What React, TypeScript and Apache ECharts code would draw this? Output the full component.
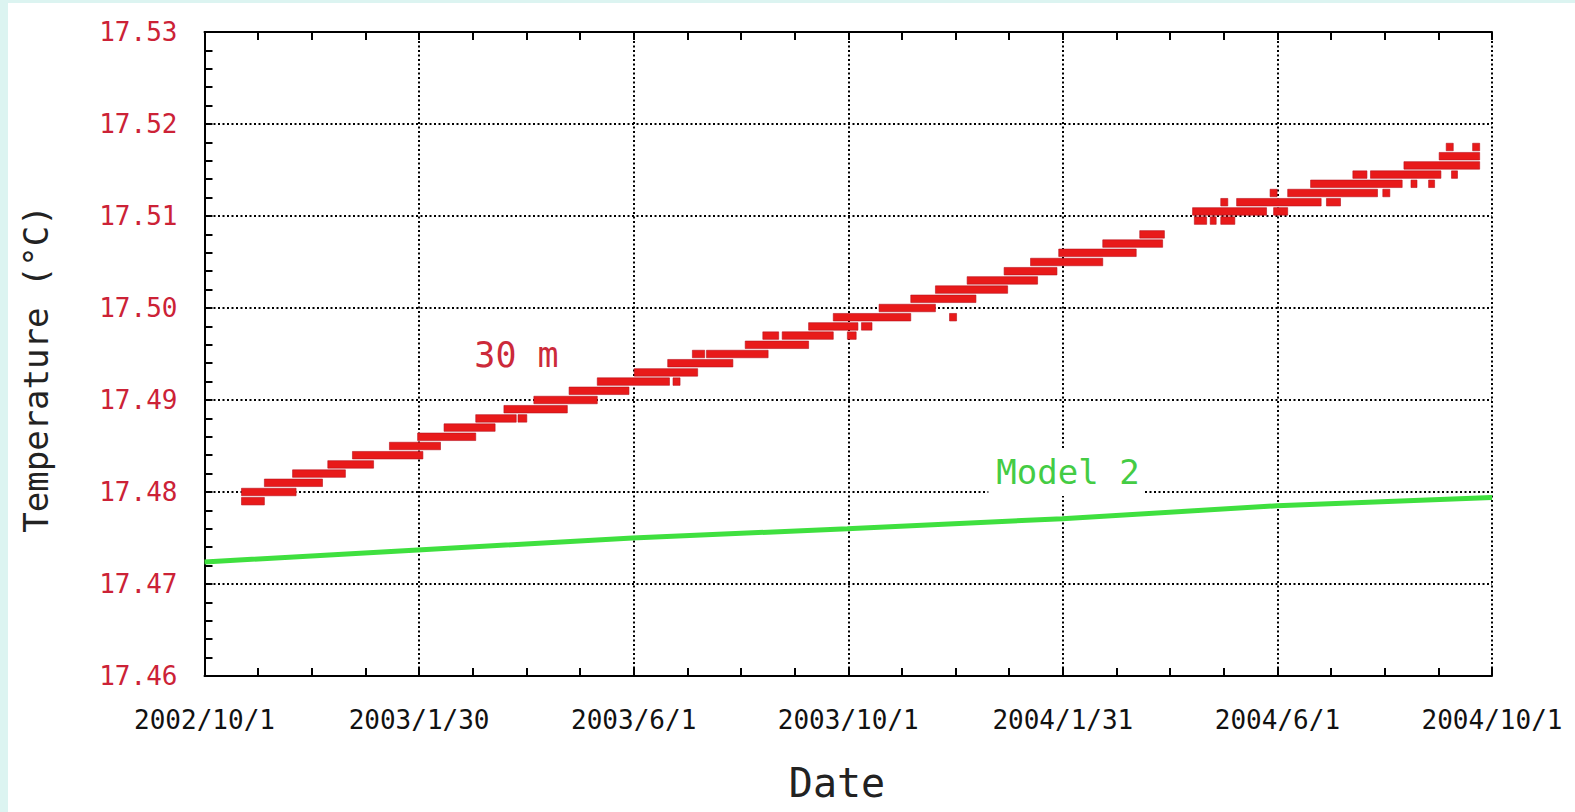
import React, { useEffect, useRef } from "react";
import * as echarts from "echarts";

// x tick labels (equally spaced ticks, six intervals over two years)
const xTickLabels = ["2002/10/1", "2003/1/30", "2003/6/1", "2003/10/1", "2004/1/31", "2004/6/1", "2004/10/1"];

// 30 m observations: runs of daily readings at one quantised value
const segValue = [
  17.479, 17.48, 17.481, 17.482, 17.483, 17.484, 17.485, 17.486, 17.487, 17.488,
  17.488, 17.489, 17.49, 17.491, 17.492, 17.492, 17.493, 17.494, 17.495, 17.495,
  17.496, 17.497, 17.497, 17.497, 17.498, 17.498, 17.499, 17.499, 17.5, 17.501,
  17.502, 17.503, 17.504, 17.505, 17.506, 17.507, 17.508, 17.5095, 17.5095, 17.5095,
  17.5105, 17.5105, 17.5115, 17.5115, 17.5115, 17.5125, 17.5125, 17.5125, 17.5135, 17.5135,
  17.5135, 17.5145, 17.5145, 17.5145, 17.5155, 17.5165, 17.5175, 17.5175,
];
const segStart = [
  "2002/10/22", "2002/10/22", "2002/11/4", "2002/11/20", "2002/12/10", "2002/12/24", "2003/1/14", "2003/1/30", "2003/2/14", "2003/3/4",
  "2003/3/28", "2003/3/20", "2003/4/6", "2003/4/26", "2003/5/12", "2003/6/24", "2003/6/2", "2003/6/21", "2003/7/5", "2003/7/13",
  "2003/8/4", "2003/8/14", "2003/8/25", "2003/10/1", "2003/9/9", "2003/10/9", "2003/9/23", "2003/11/28", "2003/10/19", "2003/11/6",
  "2003/11/20", "2003/12/8", "2003/12/29", "2004/1/13", "2004/1/29", "2004/2/23", "2004/3/15", "2004/4/15", "2004/4/24", "2004/4/30",
  "2004/4/14", "2004/5/30", "2004/4/30", "2004/5/9", "2004/6/29", "2004/5/28", "2004/6/7", "2004/7/31", "2004/6/20", "2004/8/16",
  "2004/8/26", "2004/7/14", "2004/7/24", "2004/9/8", "2004/8/12", "2004/9/1", "2004/9/5", "2004/9/20",
];
const segEnd = [
  "2002/11/4", "2002/11/22", "2002/12/7", "2002/12/20", "2003/1/5", "2003/2/2", "2003/2/12", "2003/3/4", "2003/3/15", "2003/3/27",
  "2003/4/2", "2003/4/25", "2003/5/12", "2003/5/30", "2003/6/22", "2003/6/28", "2003/7/8", "2003/7/28", "2003/7/12", "2003/8/17",
  "2003/9/9", "2003/8/23", "2003/9/23", "2003/10/6", "2003/10/7", "2003/10/15", "2003/11/6", "2003/12/2", "2003/11/20", "2003/12/13",
  "2003/12/31", "2004/1/17", "2004/1/28", "2004/2/23", "2004/3/13", "2004/3/28", "2004/3/29", "2004/4/22", "2004/4/27", "2004/5/8",
  "2004/5/26", "2004/6/7", "2004/5/4", "2004/6/26", "2004/7/7", "2004/6/1", "2004/7/28", "2004/8/4", "2004/8/11", "2004/8/19",
  "2004/8/29", "2004/7/22", "2004/9/2", "2004/9/11", "2004/9/24", "2004/9/24", "2004/9/9", "2004/9/24",
];

// Model 2 curve
const modelDates = ["2002/10/1", "2003/1/30", "2003/6/1", "2003/10/1", "2004/1/31", "2004/6/1", "2004/10/1"];
const modelValues = [17.4724, 17.4737, 17.475, 17.476, 17.4771, 17.4785, 17.4794];

const ORIGIN = Date.UTC(2002, 9, 1);
function dayOf(s: string): number {
  const [y, m, d] = s.split("/").map(Number);
  return (Date.UTC(y, m - 1, d) - ORIGIN) / 86400000;
}

const FONT = '"DejaVu Sans Mono", monospace';

export default function App() {
  const ref = useRef<HTMLDivElement>(null);
  useEffect(() => {
    if (!ref.current) return;
    const chart = echarts.init(ref.current, null, { renderer: "svg" });
    const span = dayOf(xTickLabels[xTickLabels.length - 1]);
    const segData = segValue.map((v, i) => [dayOf(segStart[i]), dayOf(segEnd[i]), v]);
    const modelData = modelDates.map((d, i) => [dayOf(d), modelValues[i]]);
    const tickStyle = { color: "#000", width: 2 };
    const xBase = {
      type: "value",
      min: 0,
      max: span,
      interval: span / 6,
      axisLine: { show: true, lineStyle: tickStyle },
      axisTick: { show: true, inside: true, length: 8, lineStyle: tickStyle },
      minorTick: { show: true, splitNumber: 4, length: 8, lineStyle: tickStyle },
    };
    chart.setOption({
      animation: false,
      backgroundColor: "#ffffff",
      textStyle: { fontFamily: FONT },
      grid: { left: 196.5, top: 29, right: 83, bottom: 136, containLabel: false },
      xAxis: [
        {
          ...xBase,
          position: "bottom",
          splitLine: { show: true, lineStyle: { color: "#000", width: 2, type: [2, 2.5] } },
          axisLabel: {
            color: "#111",
            fontSize: 26,
            fontFamily: FONT,
            margin: 31,
            formatter: (_v: number, i: number) => xTickLabels[i] ?? "",
          },
        },
        {
          ...xBase,
          position: "top",
          splitLine: { show: false },
          axisLabel: { show: false },
        },
      ],
      yAxis: [
        {
          type: "value",
          position: "left",
          min: 17.46,
          max: 17.53,
          interval: 0.01,
          axisLine: { show: true, lineStyle: tickStyle },
          axisTick: { show: true, inside: true, length: 8, lineStyle: tickStyle },
          minorTick: { show: true, splitNumber: 5, length: 8, lineStyle: tickStyle },
          splitLine: { show: true, lineStyle: { color: "#000", width: 2, type: [2, 2.5] } },
          axisLabel: {
            color: "#cc2236",
            fontSize: 26,
            fontFamily: FONT,
            margin: 27,
            padding: [0, 0, 8, 0],
            formatter: (v: number) => v.toFixed(2),
          },
        },
        {
          type: "value",
          position: "right",
          min: 17.46,
          max: 17.53,
          interval: 0.01,
          axisLine: { show: true, lineStyle: tickStyle },
          axisTick: { show: false },
          axisLabel: { show: false },
          splitLine: { show: false },
        },
      ],
      series: [
        {
          name: "Model 2",
          type: "line",
          xAxisIndex: 0,
          yAxisIndex: 0,
          data: modelData,
          showSymbol: false,
          symbol: "none",
          lineStyle: { color: "#3fe03f", width: 5 },
          z: 3,
        },
        {
          name: "30 m",
          type: "custom",
          xAxisIndex: 0,
          yAxisIndex: 0,
          data: segData,
          encode: { x: [0, 1], y: 2 },
          z: 4,
          renderItem: (_params: any, api: any) => {
            const a = api.coord([api.value(0), api.value(2)]);
            const b = api.coord([api.value(1), api.value(2)]);
            return {
              type: "rect",
              shape: { x: a[0], y: a[1] - 3.75, width: Math.max(b[0] - a[0], 6), height: 7.5 },
              style: { fill: "#e81a1a", stroke: "#b8101c", lineWidth: 0.6 },
            };
          },
        },
      ],
      graphic: [
        {
          type: "text",
          x: 27.5,
          y: 366,
          rotation: Math.PI / 2,
          style: {
            text: "Temperature (°C)",
            font: `34px ${FONT}`,
            fill: "#222",
            align: "center",
            verticalAlign: "middle",
          },
        },
        {
          type: "text",
          x: 829,
          y: 780,
          style: { text: "Date", font: `40px ${FONT}`, fill: "#222", align: "center", verticalAlign: "middle" },
        },
        {
          type: "text",
          x: 508.5,
          y: 352,
          style: { text: "30 m", font: `35px ${FONT}`, fill: "#cc2a3a", align: "center", verticalAlign: "middle" },
        },
        {
          type: "text",
          x: 1058,
          y: 469,
          z: 10,
          style: {
            text: "Model 2",
            font: `34px ${FONT}`,
            fill: "#44cc44",
            align: "center",
            verticalAlign: "middle",
            backgroundColor: "#ffffff",
            padding: [7, 4, 7, 8],
          },
        },
      ],
    });
    return () => chart.dispose();
  }, []);
  return (
    <div style={{ position: "fixed", left: 0, top: 0, width: 1575, height: 812, background: "#dcf4f1" }}>
      <div
        ref={ref}
        style={{ position: "absolute", left: 8, top: 3, width: 1567, height: 809, background: "#ffffff" }}
      />
    </div>
  );
}
